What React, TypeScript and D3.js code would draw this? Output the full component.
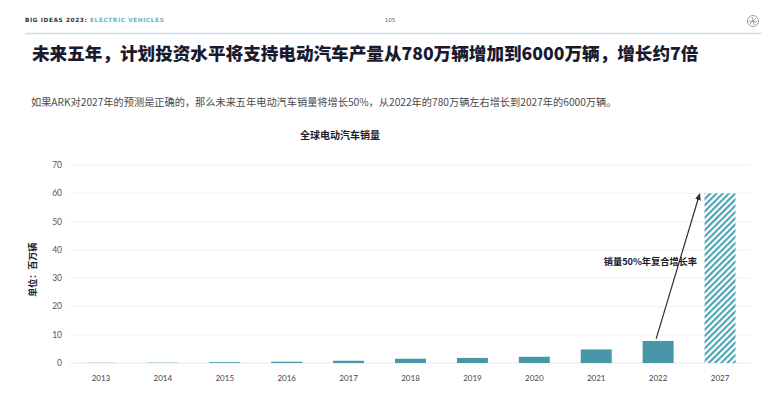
import React, { useEffect } from 'react';
import * as d3 from 'd3';

const years = ['2013', '2014', '2015', '2016', '2017', '2018', '2019', '2020', '2021', '2022', '2027'];
const sales = [0.05, 0.1, 0.3, 0.45, 0.8, 1.5, 1.8, 2.2, 4.8, 7.8, 60];
const forecastYears = ['2027'];
const yTicks = [0, 10, 20, 30, 40, 50, 60, 70];

const W = 776;
const H = 414;
const CJK = '"Noto Sans CJK SC", "Noto Sans", sans-serif';
const TEAL = '#4797a9';

const App: React.FC = () => {
  useEffect(() => {
    document.body.style.margin = '0';
  }, []);

  const x = d3.scaleBand<string>()
    .domain(years)
    .range([70, 751])
    .paddingInner(0.5)
    .paddingOuter(0.25);

  const y = d3.scaleLinear()
    .domain([0, 70])
    .range([363, 165]);

  // arrow from top of 2022 bar to the top-left of the 2027 forecast
  const arrowX1 = x('2022')! + x.bandwidth() / 2 - 2;
  const arrowY1 = y(sales[9]) - 2;
  const arrowX2 = x('2027')! - 5;
  const arrowY2 = y(60) + 1;

  return (
    <svg width={W} height={H} style={{ display: 'block', background: '#fff' }}>
      <defs>
        <pattern id="hatch" width={4.4} height={4.4} patternUnits="userSpaceOnUse" patternTransform="rotate(45)">
          <rect width={4.4} height={4.4} fill="#fff" />
          <rect x={0} y={0} width={2.1} height={4.4} fill="#4aa3b4" />
        </pattern>
        <marker id="arrowhead" viewBox="0 0 10 10" refX={8} refY={5} markerWidth={6} markerHeight={6} orient="auto">
          <path d="M0,1 L10,5 L0,9 Z" fill="#2b2d42" />
        </marker>
      </defs>

      {/* header */}
      <text x={25} y={22} fontFamily='"DejaVu Sans", sans-serif' fontSize={5.8} fontWeight="bold" letterSpacing={0.6}>
        <tspan fill="#333">BIG IDEAS 2023: </tspan>
        <tspan fill="#5ab4c3">ELECTRIC VEHICLES</tspan>
      </text>
      <text x={390} y={22} fontFamily='"DejaVu Sans", sans-serif' fontSize={5.6} fill="#666" textAnchor="middle">105</text>
      <g transform="translate(753,21)" stroke="#888" fill="none" strokeWidth={0.8}>
        <circle r={5.5} />
        <path d="M-3,3 L3,-3 M-1,-4 L1,4 M-4,0 L4,1" />
      </g>
      <line x1={25} x2={762} y1={33.5} y2={33.5} stroke="#c5e2e6" strokeWidth={1.4} />

      {/* title */}
      <text x={32} y={59.5} fontFamily={CJK} fontSize={17.6} fontWeight={900} fill="#1a1a2e">
        未来五年，计划投资水平将支持电动汽车产量从780万辆增加到6000万辆，增长约7倍
      </text>
      <text x={31} y={105.5} fontFamily={CJK} fontSize={10.2} fill="#4a4a4a">
        如果ARK对2027年的预测是正确的，那么未来五年电动汽车销量将增长50%，从2022年的780万辆左右增长到2027年的6000万辆。
      </text>

      {/* chart title */}
      <text x={340} y={138.5} textAnchor="middle" fontFamily={CJK} fontSize={10} fontWeight="bold" fill="#1a1a2e">
        全球电动汽车销量
      </text>

      {/* grid and y ticks */}
      {yTicks.map(t => (
        <g key={t}>
          <line x1={70} x2={751} y1={y(t)} y2={y(t)} stroke={t === 0 ? '#e4e8eb' : '#eef1f3'} strokeWidth={1} />
          <text x={62} y={y(t)} dy="0.35em" textAnchor="end" fontFamily="Lato, sans-serif" fontSize={8.5} fill="#555">
            {t}
          </text>
        </g>
      ))}

      {/* y axis title */}
      <text
        transform={`translate(34,${y(33)}) rotate(-90)`}
        textAnchor="middle"
        dominantBaseline="middle"
        fontFamily={CJK}
        fontSize={9}
        fontWeight="bold"
        fill="#1a1a2e"
      >
        单位：百万辆
      </text>

      {/* bars */}
      {years.map((yr, i) => (
        <rect
          key={yr}
          x={x(yr)}
          y={y(sales[i])}
          width={x.bandwidth()}
          height={y(0) - y(sales[i])}
          fill={forecastYears.includes(yr) ? 'url(#hatch)' : TEAL}
        />
      ))}

      {/* x labels */}
      {years.map(yr => (
        <text
          key={yr}
          x={x(yr)! + x.bandwidth() / 2}
          y={381}
          textAnchor="middle"
          fontFamily="Lato, sans-serif"
          fontSize={8}
          fill="#444"
        >
          {yr}
        </text>
      ))}

      {/* growth annotation */}
      <line
        x1={arrowX1}
        y1={arrowY1}
        x2={arrowX2}
        y2={arrowY2}
        stroke="#2b2d42"
        strokeWidth={1.2}
        markerEnd="url(#arrowhead)"
      />
      <text x={697} y={262} dy="0.35em" textAnchor="end" fontFamily={CJK} fontSize={9.2} fontWeight="bold" fill="#1a1a2e">
        销量50%年复合增长率
      </text>
    </svg>
  );
};

export default App;
